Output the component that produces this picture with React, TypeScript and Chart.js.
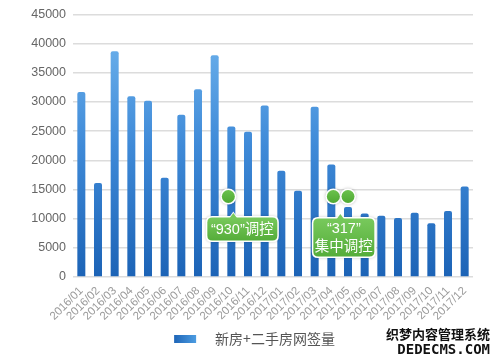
import React, { useEffect, useRef } from "react";
import { Chart, registerables } from "chart.js";

Chart.register(...registerables);

const categories = [
  "2016/01", "2016/02", "2016/03", "2016/04", "2016/05", "2016/06",
  "2016/07", "2016/08", "2016/09", "2016/10", "2016/11", "2016/12",
  "2017/01", "2017/02", "2017/03", "2017/04", "2017/05", "2017/06",
  "2017/07", "2017/08", "2017/09", "2017/10", "2017/11", "2017/12",
];
const signings = [
  31700, 16100, 38700, 31000, 30200, 17000,
  27800, 32200, 38000, 25800, 24900, 29400,
  18200, 14800, 29200, 19300, 12000, 10900,
  10500, 10100, 11000, 9200, 11300, 15500,
];
const seriesLabel = "新房+二手房网签量";
const yMax = 45000;
const yStep = 5000;
const note930Text = ["“930”调控"];
const note930Months = ["2016/10"];
const note317Text = ["“317”", "集中调控"];
const note317Months = ["2017/04", "2017/05"];
const noteLevel = 13800;
const watermark = ["织梦内容管理系统", "DEDECMS.COM"];

const FONT = "'Liberation Sans', 'Noto Sans CJK SC', sans-serif";
const CJK = "'Noto Sans CJK SC', 'Liberation Sans', sans-serif";

function roundRect(ctx: CanvasRenderingContext2D, x: number, y: number, w: number, h: number, r: number) {
  ctx.beginPath();
  ctx.moveTo(x + r, y);
  ctx.lineTo(x + w - r, y);
  ctx.quadraticCurveTo(x + w, y, x + w, y + r);
  ctx.lineTo(x + w, y + h - r);
  ctx.quadraticCurveTo(x + w, y + h, x + w - r, y + h);
  ctx.lineTo(x + r, y + h);
  ctx.quadraticCurveTo(x, y + h, x, y + h - r);
  ctx.lineTo(x, y + r);
  ctx.quadraticCurveTo(x, y, x + r, y);
  ctx.closePath();
}

function drawDot(ctx: CanvasRenderingContext2D, cx: number, cy: number) {
  ctx.save();
  ctx.shadowColor = "rgba(0,0,0,0.25)";
  ctx.shadowBlur = 3;
  ctx.beginPath();
  ctx.arc(cx, cy, 8, 0, Math.PI * 2);
  ctx.fillStyle = "#ffffff";
  ctx.fill();
  ctx.restore();
  ctx.beginPath();
  ctx.arc(cx, cy, 6.5, 0, Math.PI * 2);
  const g = ctx.createLinearGradient(0, cy - 7, 0, cy + 7);
  g.addColorStop(0, "#6cc24e");
  g.addColorStop(1, "#4ea832");
  ctx.fillStyle = g;
  ctx.fill();
}

function drawBox(
  ctx: CanvasRenderingContext2D,
  x: number, y: number, w: number, h: number,
  tailX: number, lines: string[], fontSize: number
) {
  ctx.save();
  ctx.shadowColor = "rgba(0,0,0,0.2)";
  ctx.shadowBlur = 3;
  roundRect(ctx, x - 1.5, y - 1.5, w + 3, h + 3, 6);
  ctx.fillStyle = "#ffffff";
  ctx.fill();
  ctx.restore();
  ctx.beginPath();
  ctx.moveTo(tailX - 5, y + 1);
  ctx.lineTo(tailX, y - 6);
  ctx.lineTo(tailX + 5, y + 1);
  ctx.closePath();
  ctx.fillStyle = "#ffffff";
  ctx.fill();
  const g = ctx.createLinearGradient(0, y, 0, y + h);
  g.addColorStop(0, "#78c95c");
  g.addColorStop(1, "#55ad3a");
  roundRect(ctx, x, y, w, h, 5);
  ctx.fillStyle = g;
  ctx.fill();
  ctx.beginPath();
  ctx.moveTo(tailX - 4, y + 1);
  ctx.lineTo(tailX, y - 4.5);
  ctx.lineTo(tailX + 4, y + 1);
  ctx.closePath();
  ctx.fillStyle = "#78c95c";
  ctx.fill();
  ctx.fillStyle = "#ffffff";
  ctx.font = `${fontSize}px ${FONT}`;
  ctx.textAlign = "center";
  ctx.textBaseline = "middle";
  const lh = fontSize + 3;
  const start = y + h / 2 - ((lines.length - 1) * lh) / 2 + 0.5;
  lines.forEach((t, i) => ctx.fillText(t, x + w / 2, start + i * lh));
}

const notesPlugin = {
  id: "notes",
  afterDatasetsDraw(chart: any) {
    const ctx: CanvasRenderingContext2D = chart.ctx;
    const xs = chart.scales.x;
    const ys = chart.scales.y;
    const yDot = ys.getPixelForValue(noteLevel);
    ctx.save();
    const x930 = xs.getPixelForValue(categories.indexOf(note930Months[0]));
    drawBox(ctx, x930 - 24, yDot + 21, 70, 23, x930 + 2, note930Text, 14.5);
    drawDot(ctx, x930 - 3, yDot);
    const xa = xs.getPixelForValue(categories.indexOf(note317Months[0]));
    const xb = xs.getPixelForValue(categories.indexOf(note317Months[1]));
    drawBox(ctx, xa - 18, yDot + 22, 61, 38, xa + 9, note317Text, 14.5);
    drawDot(ctx, xa + 2, yDot);
    drawDot(ctx, xb, yDot);
    ctx.restore();
  },
  afterDraw(chart: any) {
    const ctx: CanvasRenderingContext2D = chart.ctx;
    ctx.save();
    ctx.textAlign = "right";
    ctx.textBaseline = "middle";
    ctx.lineJoin = "round";
    ctx.font = `bold 13px ${CJK}`;
    ctx.lineWidth = 3;
    ctx.strokeStyle = "#ffffff";
    ctx.fillStyle = "#111111";
    ctx.strokeText(watermark[0], 490, 334);
    ctx.fillText(watermark[0], 490, 334);
    ctx.font = "bold 14px 'DejaVu Sans Mono', monospace";
    ctx.strokeText(watermark[1], 490, 350);
    ctx.fillText(watermark[1], 490, 350);
    ctx.restore();
  },
};

// legend swatch image: transparent lead-in, 22x8 gradient box, trailing gap
function makeLegendSwatch(): HTMLCanvasElement {
  const c = document.createElement("canvas");
  c.width = 70;
  c.height = 8;
  const x = c.getContext("2d")!;
  const g = x.createLinearGradient(36, 0, 58, 0);
  g.addColorStop(0, "#1f66b8");
  g.addColorStop(1, "#4d9de2");
  x.fillStyle = g;
  x.fillRect(36, 0, 22, 8);
  return c;
}

export default function App() {
  const ref = useRef<HTMLCanvasElement | null>(null);
  useEffect(() => {
    if (!ref.current) return;
    const swatch = makeLegendSwatch();
    const chart = new Chart(ref.current, {
      type: "bar",
      data: {
        labels: categories,
        datasets: [
          {
            label: seriesLabel,
            data: signings,
            backgroundColor: (c: any) => {
              const area = c.chart.chartArea;
              if (!area) return "#3a86d6";
              const g = c.chart.ctx.createLinearGradient(0, area.top, 0, area.bottom);
              g.addColorStop(0, "#74b8ef");
              g.addColorStop(0.5, "#3f8ad8");
              g.addColorStop(1, "#1c63b6");
              return g;
            },
            borderRadius: { topLeft: 2, topRight: 2 },
            borderSkipped: "bottom",
            barPercentage: 0.48,
            categoryPercentage: 1,
          },
        ],
      },
      options: {
        animation: false,
        responsive: false,
        layout: { padding: { top: 10, right: 27, bottom: 2, left: 0 } },
        plugins: {
          tooltip: { enabled: false },
          legend: {
            position: "bottom",
            labels: {
              usePointStyle: true,
              pointStyleWidth: 70,
              boxHeight: 8,
              padding: 10,
              color: "#555555",
              font: { size: 14, family: CJK },
              generateLabels: (chart: any) => {
                const items = Chart.defaults.plugins.legend.labels.generateLabels(chart);
                return items.map((it: any) => ({ ...it, pointStyle: swatch, lineWidth: 0 }));
              },
            },
          },
        },
        scales: {
          x: {
            offset: true,
            grid: { display: false, drawTicks: false },
            border: { display: false },
            ticks: {
              color: "#9a9a9a",
              font: { size: 11.5, family: FONT },
              maxRotation: 45,
              minRotation: 45,
              autoSkip: false,
              padding: 7,
            },
            afterFit: (s: any) => { s.height = 45; },
          },
          y: {
            min: 0,
            max: yMax,
            grid: { color: "#dcdcdc", lineWidth: 1.5, drawTicks: false },
            border: { display: false },
            ticks: {
              stepSize: yStep,
              color: "#666666",
              font: { size: 12.5, family: FONT },
              padding: 7,
              callback: (v: any) => String(v),
            },
            afterFit: (s: any) => { s.width = 73; },
          },
        },
      },
      plugins: [notesPlugin],
    } as any);
    return () => chart.destroy();
  }, []);
  return (
    <div style={{ position: "absolute", left: 0, top: 0, width: 500, height: 358 }}>
      <canvas ref={ref} width={500} height={358} />
    </div>
  );
}
